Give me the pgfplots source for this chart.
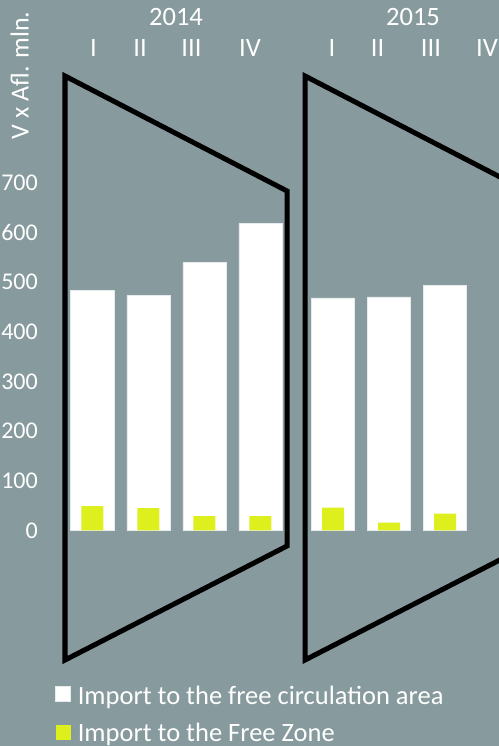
\documentclass[border=0pt]{standalone}
\usepackage{fontspec}
\setmainfont{Carlito}
\usepackage{pgfplots}
\pgfplotsset{compat=1.18}
\definecolor{bg}{HTML}{879A9D}
\definecolor{ylw}{HTML}{DDF01E}
\begin{document}
\begin{tikzpicture}
\begin{axis}[
  x=56pt, y=0.497pt,
  xmin=-1.6482, xmax=7.2625, ymin=-433.6, ymax=1067.4,
  axis background/.style={fill=bg},
  axis line style={draw=none},
  clip=false,
  xtick=\empty,
  ytick={0,100,...,700},
  major tick length=0pt,
  /pgf/number format/assume math mode=true,
  yticklabel style={anchor=east, inner sep=0pt, xshift=38pt, text=white, font=\fontsize{24}{28}\selectfont},
  legend cell align=left,
  legend style={at={(axis cs:-0.666,-311.7)}, anchor=north west, draw=none, fill=none,
    inner sep=0pt, row sep=18pt, text=white, font=\fontsize{26.5}{30}\selectfont,
    nodes={inner sep=0pt}},
  legend image code/.code={\fill[#1] (0pt,-6.2pt) rectangle (15pt,8.8pt); \path (22pt,0pt);},
]
\addplot[ybar, bar width=43pt, bar shift=0pt, fill=white, draw=white!80!bg, line width=0.6pt]
  coordinates {(0,483) (1,473) (2,539) (3,618) (4.3,468) (5.3,470) (6.3,493)};
\addplot[ybar, bar width=22pt, bar shift=0pt, fill=ylw, draw=none]
  coordinates {(0,49) (1,45) (2,29) (3,29) (4.3,46) (5.3,16) (6.3,34)};
\legend{Import to the free circulation area, Import to the Free Zone}
\draw[black, line width=5pt, line join=miter] (axis cs:-0.4875,914.5) -- (axis cs:3.4768,683.1) -- (axis cs:3.4768,-31.2) -- (axis cs:-0.4875,-260.6) -- cycle;
\draw[black, line width=5pt, line join=miter] (axis cs:3.7982,914.5) -- (axis cs:7.7625,683.1) -- (axis cs:7.7625,-31.2) -- (axis cs:3.7982,-260.6) -- cycle;
\begin{scope}[every node/.style={text=white, inner sep=0pt, font=\fontsize{26.5}{30}\selectfont}]
\node at (axis cs:1.4946,1033.2) {2014};
\node at (axis cs:5.7268,1033.2) {2015};
\node at (axis cs:0.021,969.8) {I};
\node at (axis cs:0.852,969.8) {II};
\node at (axis cs:1.771,969.8) {III};
\node at (axis cs:2.816,969.8) {IV};
\node at (axis cs:4.280,969.8) {I};
\node at (axis cs:5.093,969.8) {II};
\node at (axis cs:6.048,969.8) {III};
\node at (axis cs:7.048,969.8) {IV};
\node[rotate=90, anchor=base, font=\fontsize{26}{30}\selectfont] at (axis cs:-1.139,915.5) {V x Afl. mln.};
\end{scope}
\end{axis}
\pgfresetboundingbox
\useasboundingbox (current axis.south west) rectangle (current axis.north east);
\end{tikzpicture}
\end{document}
